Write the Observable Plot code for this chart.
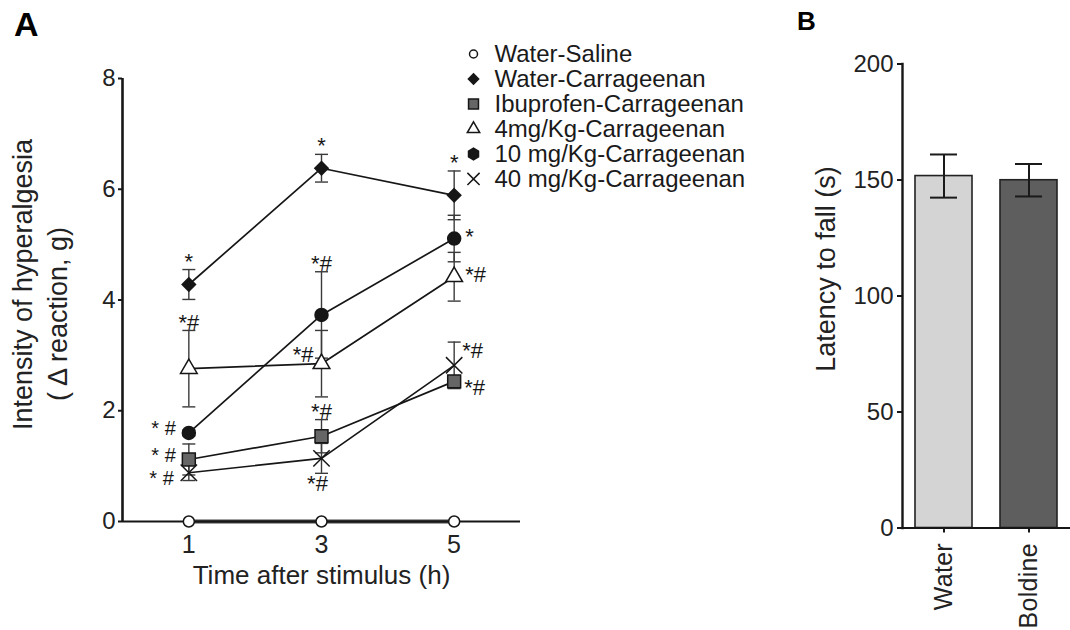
<!DOCTYPE html>
<html>
<head>
<meta charset="utf-8">
<script src="https://cdn.jsdelivr.net/npm/d3@7"></script>
<script src="https://cdn.jsdelivr.net/npm/@observablehq/plot@0.6"></script>
<style>
  html, body { margin: 0; padding: 0; background: #fff; }
  #wrap { position: relative; width: 1070px; height: 630px; overflow: hidden; font-family: "Liberation Sans", Arial, sans-serif; color: #1a1a1a; }
  #wrap > div { position: absolute; }
  .panel { font-weight: bold; line-height: 1; color: #000; }
  [aria-label="xlabelA"] text { letter-spacing: 1.25px; }
  [aria-label="legend-text"] text { letter-spacing: 1.1px; }
  [aria-label="ylabelB"] text { letter-spacing: 1.7px; }
  [aria-label="x-axis tick label"] text { letter-spacing: 0.3px; }
</style>
</head>
<body>
<div id="wrap">
  <div id="chartA" style="left:0; top:0;"></div>
  <div id="legendA" style="left:460px; top:38.8px;"></div>
  <div id="chartB" style="left:800px; top:0;"></div>
  <div class="panel" style="left:14px; top:7px; font-size:34px;">A</div>
  <div class="panel" style="left:797px; top:8px; font-size:26px;">B</div>
</div>
<script>
// ---------- Panel A data ----------
const hours = [1, 3, 5];
const yTicksA = [0, 2, 4, 6, 8];
const seriesNames = [
  "Water-Saline",
  "Water-Carrageenan",
  "Ibuprofen-Carrageenan",
  "4mg/Kg-Carrageenan",
  "10 mg/Kg-Carrageenan",
  "40 mg/Kg-Carrageenan"
];
const waterSalineMean = [0, 0, 0];
const waterSalineErr = [0, 0, 0];
const waterCarrMean = [4.28, 6.38, 5.89];
const waterCarrErr = [0.27, 0.25, 0.44];
const ibuprofenMean = [1.12, 1.54, 2.53];
const ibuprofenErr = [0.28, 0.30, 0.10];
const mg4Mean = [2.76, 2.85, 4.42];
const mg4Err = [0.69, 0.60, 0.44];
const mg10Mean = [1.60, 3.73, 5.11];
const mg10Err = [0.05, 0.78, 0.42];
const mg40Mean = [0.88, 1.14, 2.82];
const mg40Err = [0.14, 0.27, 0.42];

// significance marks: series index, hour, label, placement
const annSeries = [1, 1, 1, 4, 4, 4, 3, 3, 3, 2, 2, 2, 5, 5, 5];
const annHour   = [1, 3, 5, 1, 3, 5, 1, 3, 5, 1, 3, 5, 1, 3, 5];
const annText   = ["*", "*", "*", "* #", "*#", "*", "*#", "*#", "*#", "* #", "*#", "*#", "* #", "*#", "*#"];
const annPlace  = ["above", "above", "above", "left", "above", "right", "above", "upperLeft", "right",
                   "left", "above", "lowerRight", "lowerLeft", "below", "upperRight"];

// ---------- Panel B data ----------
const bGroups = ["Water", "Boldine"];
const bMeans = [151.7, 149.9];
const bErrs = [9.3, 7.0];
const yTicksB = [0, 50, 100, 150, 200];

// ---------- build tables ----------
const meansAll = [waterSalineMean, waterCarrMean, ibuprofenMean, mg4Mean, mg10Mean, mg40Mean];
const errsAll = [waterSalineErr, waterCarrErr, ibuprofenErr, mg4Err, mg10Err, mg40Err];
const rows = seriesNames.flatMap((s, si) => hours.map((h, i) => ({
  series: s, hour: h, mean: meansAll[si][i], err: errsAll[si][i]
})));
const annRows = annText.map((t, i) => {
  const s = seriesNames[annSeries[i]];
  const r = rows.find(d => d.series === s && d.hour === annHour[i]);
  const p = annPlace[i];
  const y = p === "above" ? r.mean + r.err : p === "below" ? r.mean - r.err : r.mean;
  return {text: t, hour: r.hour, y, place: p};
});

const font = "Liberation Sans, Arial, sans-serif";
const ink = "#161616";
const style = {
  plot: [
    {symbol: "circle", fill: "white", stroke: ink, r: 5.5},
    {symbol: "diamond2", fill: ink, stroke: ink, r: 6},
    {symbol: "square", fill: "#666666", stroke: ink, r: 7.3},
    {symbol: "triangle", fill: "white", stroke: ink, r: 6.2},
    {symbol: "circle", fill: ink, stroke: ink, r: 6.5},
    {symbol: "times", fill: "none", stroke: ink, r: 7.5}
  ],
  legend: [
    {symbol: "circle", fill: "white", stroke: ink, r: 4},
    {symbol: "diamond2", fill: ink, stroke: ink, r: 4.6},
    {symbol: "square", fill: "#666666", stroke: ink, r: 5.6},
    {symbol: "triangle", fill: "white", stroke: ink, r: 4.6},
    {symbol: "hexagon", fill: ink, stroke: ink, r: 5},
    {symbol: "times", fill: "none", stroke: ink, r: 5.6}
  ]
};
const capA = {draw(ctx) { ctx.moveTo(-6.5, 0); ctx.lineTo(6.5, 0); }};
const offsets = {
  above: {dx: 0, dy: -8, textAnchor: "middle", size: 22},
  below: {dx: -4, dy: 11, textAnchor: "middle", size: 22},
  left: {dx: -13, dy: -4, textAnchor: "end", size: 20},
  lowerLeft: {dx: -15, dy: 6, textAnchor: "end", size: 20},
  upperLeft: {dx: -8, dy: -9, textAnchor: "end", size: 22},
  right: {dx: 11, dy: -2, textAnchor: "start", size: 22},
  lowerRight: {dx: 10, dy: 7, textAnchor: "start", size: 22},
  upperRight: {dx: 8, dy: -14, textAnchor: "start", size: 22}
};

const errRows = rows.filter(d => d.err > 0);
const marksA = [
  Plot.line(rows.filter(d => d.series === "Water-Saline"), {x: "hour", y: "mean", stroke: "#444", strokeWidth: 4}),
  Plot.ruleY([0], {stroke: ink, strokeWidth: 2}),
  Plot.ruleX([0], {stroke: ink, strokeWidth: 2.6}),
  Plot.line(rows.filter(d => d.series !== "Water-Saline"), {x: "hour", y: "mean", z: "series", stroke: ink, strokeWidth: 1.7}),
  Plot.ruleX(errRows, {x: "hour", y1: d => d.mean - d.err, y2: d => d.mean + d.err, stroke: "#3a3a3a", strokeWidth: 1.4}),
  Plot.dot(errRows, {x: "hour", y: d => d.mean + d.err, symbol: capA, fill: "none", stroke: "#3a3a3a", strokeWidth: 1.4}),
  Plot.dot(errRows, {x: "hour", y: d => d.mean - d.err, symbol: capA, fill: "none", stroke: "#3a3a3a", strokeWidth: 1.4}),
  ...seriesNames.map((s, i) => Plot.dot(rows.filter(d => d.series === s), {
    x: "hour", y: "mean", symbol: style.plot[i].symbol, fill: style.plot[i].fill,
    stroke: style.plot[i].stroke, r: style.plot[i].r, strokeWidth: 1.5
  })),
  ...Object.keys(offsets).map(p => Plot.text(annRows.filter(d => d.place === p), {
    x: "hour", y: "y", text: "text", dx: offsets[p].dx, dy: offsets[p].dy,
    textAnchor: offsets[p].textAnchor, fontSize: offsets[p].size, fill: ink
  })),
  Plot.axisY({ticks: yTicksA, tickSize: 4, tickPadding: 3, fontSize: 24, label: null, stroke: ink, strokeWidth: 2, fill: "#222"}),
  Plot.axisX({ticks: hours, tickFormat: d3.format("d"), tickSize: 0, tickPadding: 14, fontSize: 25, label: null, fill: "#222"}),
  Plot.text(["Time after stimulus (h)"], {frameAnchor: "bottom", dy: 62, fontSize: 26, fill: "#222", ariaLabel: "xlabelA"}),
  Plot.text(["Intensity of hyperalgesia"], {frameAnchor: "left", textAnchor: "middle", rotate: -90, dx: -99, dy: -15.5, fontSize: 27, fill: "#222"}),
  Plot.text(["( \u0394 reaction, g)"], {frameAnchor: "left", textAnchor: "middle", rotate: -90, dx: -64, dy: 14, fontSize: 27, fill: "#222"})
];

const chartA = Plot.plot({
  width: 800, height: 630,
  marginLeft: 122, marginRight: 280, marginTop: 78, marginBottom: 109,
  x: {domain: [0, 6]},
  y: {domain: [0, 8]},
  style: {fontFamily: font, background: "transparent", overflow: "visible"},
  marks: marksA
});
document.getElementById("chartA").append(chartA);

// ---------- Legend ----------
const legend = Plot.plot({
  width: 330, height: 154.2, margin: 0,
  y: {domain: seriesNames, type: "band", padding: 0, axis: null},
  style: {fontFamily: font, background: "transparent", overflow: "visible"},
  marks: [
    ...seriesNames.map((s, i) => Plot.dot([s], {
      y: d => d, frameAnchor: "left", dx: 13, symbol: style.legend[i].symbol,
      fill: style.legend[i].fill, stroke: style.legend[i].stroke, r: style.legend[i].r, strokeWidth: 1.5
    })),
    Plot.text(seriesNames, {y: d => d, text: d => d, frameAnchor: "left", dx: 34, textAnchor: "start",
      fontSize: 24, fill: "#1a1a1a", ariaLabel: "legend-text"})
  ]
});
document.getElementById("legendA").append(legend);

// ---------- Panel B ----------
const rowsB = bGroups.map((g, i) => ({group: g, mean: bMeans[i], err: bErrs[i]}));
const bFill = {Water: "#d4d4d4", Boldine: "#5e5e5e"};
const chartB = Plot.plot({
  width: 270, height: 630,
  marginLeft: 102, marginRight: 0, marginTop: 63.5, marginBottom: 102.5,
  x: {domain: bGroups, paddingInner: 0.327, paddingOuter: 0.146, align: 0.5},
  y: {domain: [0, 200]},
  color: {type: "identity"},
  style: {fontFamily: font, background: "transparent", overflow: "visible"},
  marks: [
    Plot.barY(rowsB, {x: "group", y: "mean", fill: d => bFill[d.group], stroke: "#222", strokeWidth: 1.6}),
    Plot.ruleX(rowsB, {x: "group", y1: d => d.mean - d.err, y2: d => d.mean + d.err, stroke: "#1a1a1a", strokeWidth: 2}),
    Plot.tickY(rowsB, {x: "group", y: d => d.mean + d.err, insetLeft: 15, insetRight: 15, stroke: "#1a1a1a", strokeWidth: 2}),
    Plot.tickY(rowsB, {x: "group", y: d => d.mean - d.err, insetLeft: 15, insetRight: 15, stroke: "#1a1a1a", strokeWidth: 2}),
    Plot.ruleY([0], {stroke: ink, strokeWidth: 2}),
    Plot.frame({anchor: "left", stroke: ink, strokeWidth: 2.4}),
    Plot.axisY({ticks: yTicksB, tickSize: 5, tickPadding: 4, fontSize: 24, label: null, stroke: ink, strokeWidth: 2, fill: "#222"}),
    Plot.axisX({tickSize: 5, tickPadding: 10, tickRotate: -90, fontSize: 25, label: null, stroke: ink, strokeWidth: 2, fill: "#222"}),
    Plot.text(["Latency to fall (s)"], {frameAnchor: "left", textAnchor: "middle", rotate: -90, dx: -76, dy: -27, fontSize: 27, fill: "#222", ariaLabel: "ylabelB"})
  ]
});
document.getElementById("chartB").append(chartB);
</script>
</body>
</html>
